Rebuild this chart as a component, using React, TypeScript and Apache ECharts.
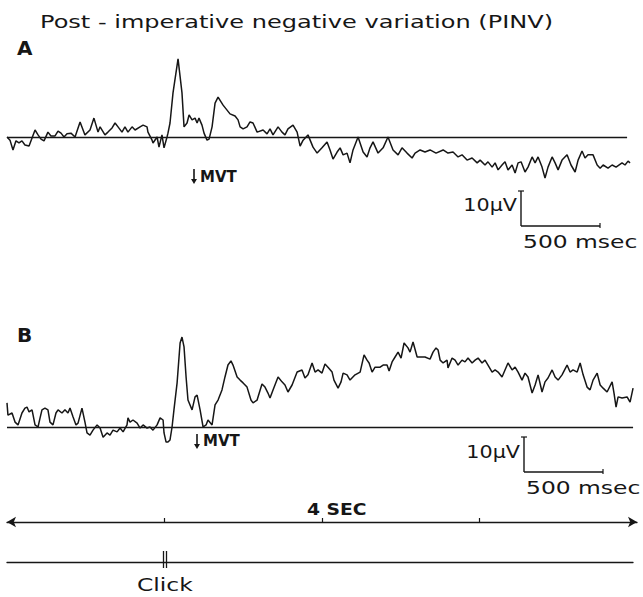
import React, { useEffect, useRef } from "react";
import * as echarts from "echarts";

// Time in ms (0–4000), amplitude in µV (as drawn: upward positive)
const traceA: [number, number][] = [[0,0],[19,-0.9],[38,-3.7],[57,-1.1],[76,-1.7],[95,-1.1],[114,-2.3],[140,-2.6],[159,-0.3],[178,2.0],[197,0.6],[216,-0.6],[235,-1.1],[260,1.4],[279,0.3],[305,0.3],[324,1.7],[343,1.1],[362,0],[381,0.9],[406,1.1],[432,0],[464,4.3],[495,0.6],[527,2.0],[552,5.4],[578,1.4],[591,2.9],[622,0.6],[641,1.4],[667,2.6],[686,4.0],[705,2.9],[730,1.4],[749,2.9],[768,1.4],[794,2.9],[813,2.0],[845,2.9],[864,3.4],[889,2.9],[895,1.4],[921,-0.9],[927,-1.7],[953,0],[965,-2.9],[984,0.6],[997,-3.1],[1016,0],[1022,1.1],[1035,4.0],[1054,12.6],[1086,22.3],[1111,12.6],[1124,2.9],[1143,4.0],[1156,6.3],[1175,4.9],[1194,5.4],[1207,4.0],[1219,5.4],[1238,3.4],[1251,1.1],[1270,-0.9],[1283,-0.6],[1302,2.9],[1321,9.7],[1340,11.4],[1372,9.1],[1416,6.6],[1448,6.0],[1467,4.9],[1480,2.9],[1499,2.3],[1524,2.9],[1543,4.3],[1562,4.0],[1588,1.4],[1626,2.0],[1651,0.9],[1670,2.3],[1689,0.6],[1721,2.9],[1746,1.4],[1765,0.6],[1784,2.3],[1816,3.4],[1842,1.4],[1861,-2.6],[1880,-0.9],[1911,0.6],[1943,-2.9],[1969,-4.6],[2000,-3.1],[2032,-1.4],[2051,-3.7],[2070,-6.3],[2096,-4.3],[2115,-3.1],[2134,-5.1],[2159,-4.6],[2178,-7.4],[2197,-3.7],[2229,0],[2261,-4.3],[2286,-5.7],[2305,-3.1],[2324,-1.4],[2356,-4.6],[2388,-3.1],[2419,0],[2451,-3.7],[2483,-5.1],[2508,-3.1],[2540,-4.6],[2572,-6.0],[2591,-4.6],[2623,-3.7],[2654,-4.3],[2686,-3.7],[2724,-4.6],[2769,-3.7],[2800,-4.6],[2832,-4.3],[2864,-5.7],[2889,-5.1],[2921,-6.6],[2953,-6.0],[2985,-7.4],[3004,-6.6],[3035,-8.0],[3054,-7.1],[3080,-8.6],[3099,-7.4],[3118,-9.4],[3143,-8.0],[3162,-7.1],[3181,-9.4],[3207,-8.0],[3226,-10.3],[3245,-7.4],[3264,-7.1],[3289,-10.0],[3308,-8.6],[3334,-5.7],[3353,-7.4],[3372,-5.7],[3397,-8.6],[3416,-11.7],[3435,-8.6],[3461,-5.7],[3480,-7.4],[3499,-9.4],[3524,-6.6],[3556,-5.1],[3581,-8.0],[3607,-10.0],[3626,-6.6],[3651,-4.0],[3670,-6.0],[3689,-5.1],[3721,-5.1],[3747,-8.0],[3766,-8.9],[3785,-8.0],[3816,-8.9],[3842,-8.0],[3867,-8.6],[3905,-7.4],[3924,-8.0],[3943,-6.9],[3956,-7.4]];

const traceB: [number, number][] = [[0,6.9],[6,3.4],[32,4.0],[51,1.4],[70,0.6],[95,4.0],[114,5.4],[127,5.7],[140,4.3],[159,4.9],[178,0.6],[197,0],[210,2.6],[222,4.9],[241,5.4],[260,4.9],[273,1.4],[292,0.6],[311,4.0],[324,4.9],[349,4.0],[368,4.9],[387,4.0],[400,5.4],[419,2.9],[438,0.6],[451,1.1],[476,5.4],[495,1.4],[508,-1.7],[527,-2.3],[546,-0.9],[572,0.6],[591,-0.3],[610,-2.9],[635,-1.7],[654,-2.3],[673,-0.9],[699,-1.4],[718,-0.3],[737,-1.4],[762,0.6],[768,2.6],[781,1.4],[800,2.0],[826,1.1],[845,-0.3],[864,0.6],[889,-0.3],[908,0],[927,-0.9],[953,0.6],[972,2.6],[991,2.0],[997,-1.7],[1010,-4.3],[1022,-4.3],[1035,-3.7],[1048,0],[1060,4.9],[1080,12.6],[1099,24.0],[1111,25.7],[1124,22.9],[1137,14.3],[1149,7.7],[1175,4.9],[1194,8.6],[1207,9.1],[1226,4.9],[1245,0],[1264,0.6],[1276,2.0],[1302,0.6],[1321,6.3],[1340,7.7],[1365,10.6],[1384,14.3],[1403,17.7],[1422,18.9],[1435,17.7],[1461,14.3],[1480,13.4],[1499,12.6],[1524,11.4],[1549,7.7],[1562,6.9],[1588,7.7],[1619,12.3],[1638,11.4],[1657,9.7],[1670,8.3],[1689,10.6],[1721,14.3],[1746,12.9],[1765,12.0],[1784,10.0],[1810,12.0],[1842,15.7],[1873,16.3],[1892,14.0],[1911,14.9],[1937,18.3],[1956,15.7],[1975,16.3],[2000,15.4],[2019,18.0],[2038,17.1],[2064,15.7],[2076,13.4],[2102,11.1],[2121,12.9],[2134,15.4],[2159,14.9],[2178,13.4],[2210,14.9],[2242,15.7],[2267,20.6],[2286,19.1],[2299,18.3],[2318,15.7],[2337,17.1],[2369,17.1],[2388,17.7],[2413,17.7],[2426,16.0],[2445,18.6],[2464,20.0],[2483,21.4],[2502,19.7],[2521,24.0],[2546,22.6],[2559,21.4],[2578,24.3],[2604,20.0],[2623,20.0],[2654,20.0],[2686,19.4],[2705,21.4],[2724,22.6],[2737,22.0],[2750,19.1],[2769,18.3],[2794,19.1],[2800,16.9],[2826,19.7],[2845,19.1],[2864,17.7],[2889,19.1],[2908,18.6],[2927,19.7],[2953,18.3],[2972,19.1],[2991,19.7],[3016,18.3],[3035,19.1],[3054,17.7],[3080,15.7],[3099,16.3],[3118,15.7],[3143,14.3],[3162,16.3],[3181,18.3],[3207,16.3],[3226,17.1],[3245,15.7],[3270,13.4],[3289,15.4],[3308,14.3],[3334,9.7],[3353,12.0],[3372,14.9],[3397,10.0],[3416,12.9],[3435,14.0],[3461,16.3],[3480,14.3],[3499,13.4],[3524,14.9],[3556,17.7],[3575,15.7],[3594,16.3],[3620,15.7],[3639,18.3],[3658,14.9],[3683,11.4],[3702,10.6],[3721,13.4],[3747,15.4],[3766,12.0],[3785,11.1],[3810,10.0],[3842,12.9],[3854,9.7],[3867,5.7],[3880,8.6],[3905,8.3],[3937,8.6],[3956,7.1],[3975,11.1]];

const baselineEndA = 3937; // ms
const baselineEndB = 3975; // ms
const secondTicks = [1000, 2000, 3000];
const titleText = "Post - imperative negative variation (PINV)";

const INK = "#161616";
const FONT = "DejaVu Sans";

function label(text: string, x: number, y: number, size: number, opts: any = {}) {
  return {
    type: "text",
    x,
    y,
    scaleX: opts.scaleX ?? 1.3,
    silent: true,
    style: {
      text,
      fontSize: size,
      fontFamily: FONT,
      fontWeight: opts.bold ? "bold" : "normal",
      fill: INK,
      textAlign: opts.align ?? "left",
      textVerticalAlign: "middle",
    },
  };
}

function seg(x1: number, y1: number, x2: number, y2: number, w = 1.4) {
  return {
    type: "line",
    silent: true,
    shape: { x1, y1, x2, y2 },
    style: { stroke: INK, lineWidth: w },
  };
}

function downArrow(x: number, top: number, bottom: number) {
  return [
    seg(x, top, x, bottom - 3, 1.6),
    {
      type: "polygon",
      silent: true,
      shape: { points: [[x - 3, bottom - 5], [x + 3, bottom - 5], [x, bottom]] },
      style: { fill: INK },
    },
  ];
}

export default function App() {
  const ref = useRef<HTMLDivElement>(null);
  useEffect(() => {
    if (!ref.current) return;
    const chart = echarts.init(ref.current, null, { renderer: "svg" });
    const hiddenX = (gridIndex: number, max: number) => ({
      type: "value", gridIndex, min: 0, max, show: false,
    });
    const baselineMark = (end: number) => ({
      silent: true,
      symbol: ["none", "none"],
      label: { show: false },
      lineStyle: { color: INK, width: 1.4, type: "solid" },
      data: [[{ coord: [0, 0] }, { coord: [end, 0] }]],
    });
    const option: any = {
      animation: false,
      backgroundColor: "#ffffff",
      grid: [
        { left: 7, width: 630, top: 49.5, height: 140 },
        { left: 7, width: 630, top: 322, height: 122.5 },
        { left: 7, width: 630, top: 500, height: 22 },
        { left: 7, width: 626, top: 540, height: 22 },
      ],
      xAxis: [
        hiddenX(0, 4000),
        hiddenX(1, 4000),
        {
          type: "value", gridIndex: 2, min: 0, max: 4000,
          axisLine: {
            show: true, onZero: false,
            symbol: ["arrow", "arrow"], symbolSize: [8, 9],
            lineStyle: { color: INK, width: 1.3 },
          },
          axisTick: { show: true, inside: true, length: 4, customValues: secondTicks, lineStyle: { color: INK, width: 1.2 } },
          axisLabel: { show: false },
          splitLine: { show: false },
        },
        {
          type: "value", gridIndex: 3, min: 0, max: 3975,
          axisLine: { show: true, onZero: false, lineStyle: { color: INK, width: 1.3 } },
          axisTick: { show: false },
          axisLabel: { show: false },
          splitLine: { show: false },
        },
      ],
      yAxis: [
        { type: "value", gridIndex: 0, min: -15, max: 25, show: false },
        { type: "value", gridIndex: 1, min: -5, max: 30, show: false },
        { type: "value", gridIndex: 2, min: 0, max: 1, show: false },
        { type: "value", gridIndex: 3, min: 0, max: 1, show: false },
      ],
      series: [
        {
          type: "line", xAxisIndex: 0, yAxisIndex: 0, data: traceA,
          showSymbol: false, silent: true,
          lineStyle: { color: INK, width: 1.5 },
          markLine: baselineMark(baselineEndA),
        },
        {
          type: "line", xAxisIndex: 1, yAxisIndex: 1, data: traceB,
          showSymbol: false, silent: true,
          lineStyle: { color: INK, width: 1.5 },
          markLine: baselineMark(baselineEndB),
        },
      ],
      graphic: [
        label(titleText, 40, 21.5, 18.5),
        label("A", 17, 47.5, 20, { bold: true, scaleX: 1 }),
        label("B", 17, 334.5, 20, { bold: true, scaleX: 1 }),
        ...downArrow(194, 169, 184),
        label("MVT", 200, 176.5, 15, { bold: true, scaleX: 1 }),
        ...downArrow(197, 434, 449),
        label("MVT", 203, 441, 15, { bold: true, scaleX: 1 }),
        // scale bar A
        label("10μV", 517, 205, 18, { align: "right", scaleX: 1.15 }),
        seg(521, 191, 521, 226),
        seg(518, 191, 524, 191, 1.2),
        seg(521, 226, 600, 226),
        seg(600, 223, 600, 228, 1.2),
        label("500 msec", 523, 241.5, 18, { scaleX: 1.3 }),
        // scale bar B
        label("10μV", 520, 452, 18, { align: "right", scaleX: 1.15 }),
        seg(524, 437, 524, 472),
        seg(521, 437, 527, 437, 1.2),
        seg(524, 472, 603, 472),
        seg(603, 469, 603, 474, 1.2),
        label("500 msec", 526, 488, 18, { scaleX: 1.3 }),
        // 4 SEC
        label("4 SEC", 307, 510, 15, { bold: true, scaleX: 1.25 }),
        // Click marker
        seg(163.5, 551, 163.5, 568, 1.3),
        seg(166.5, 551, 166.5, 568, 1.3),
        label("Click", 137, 585, 18, { scaleX: 1.3 }),
      ],
    };
    chart.setOption(option);
    return () => chart.dispose();
  }, []);
  return (
    <div
      ref={ref}
      style={{ position: "fixed", left: 0, top: 0, width: 643, height: 597, background: "#fff" }}
    />
  );
}
